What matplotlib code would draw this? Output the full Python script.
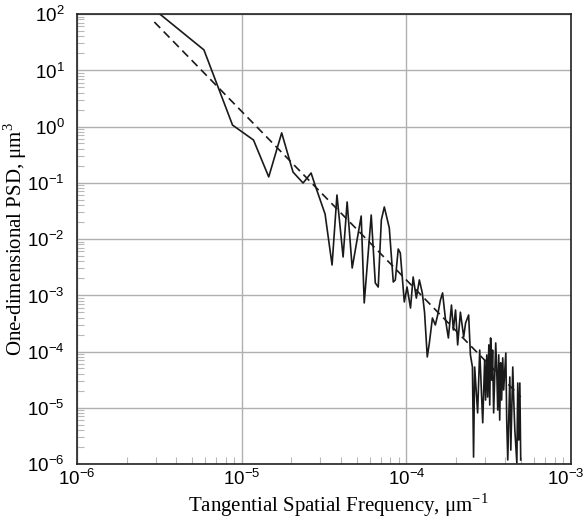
import matplotlib
matplotlib.use('Agg')
import matplotlib.pyplot as plt
from matplotlib.ticker import LogLocator, NullFormatter
from matplotlib.transforms import ScaledTranslation

# one-dimensional PSD (frequency in 1/um, PSD in um^3)
freq = [3.0e-6, 5.9e-6, 8.8e-6, 1.18e-5, 1.46e-5, 1.75e-5, 2.05e-5, 2.36e-5,
        2.64e-5, 2.79e-5, 3.21e-5, 3.54e-5, 3.79e-5, 4.13e-5, 4.37e-5, 4.69e-5,
        5.32e-5, 5.55e-5, 6.12e-5, 6.48e-5, 6.75e-5, 7.05e-5, 7.35e-5, 7.88e-5,
        8.33e-5, 8.57e-5, 8.93e-5, 9.19e-5, 9.72e-5, 1.01e-4, 1.06e-4, 1.10e-4,
        1.15e-4, 1.20e-4, 1.25e-4, 1.29e-4, 1.34e-4, 1.38e-4, 1.44e-4, 1.50e-4,
        1.55e-4, 1.61e-4, 1.66e-4, 1.73e-4, 1.80e-4, 1.88e-4, 1.93e-4, 1.99e-4,
        2.05e-4, 2.13e-4, 2.23e-4, 2.29e-4, 2.39e-4, 2.45e-4, 2.52e-4, 2.56e-4,
        2.60e-4, 2.71e-4, 2.79e-4, 2.91e-4, 2.99e-4, 3.03e-4, 3.08e-4, 3.12e-4,
        3.17e-4, 3.21e-4, 3.25e-4, 3.30e-4, 3.34e-4, 3.39e-4, 3.49e-4, 3.54e-4,
        3.59e-4, 3.64e-4, 3.69e-4, 3.74e-4, 3.79e-4, 3.85e-4, 3.90e-4, 4.02e-4,
        4.07e-4, 4.13e-4, 4.25e-4, 4.31e-4, 4.43e-4, 4.49e-4, 4.56e-4, 4.69e-4,
        4.75e-4, 4.82e-4, 4.89e-4, 4.95e-4]
psd = [115, 23, 1.06, 0.575, 0.127, 0.77, 0.155, 0.099,
       0.149, 0.091, 0.0278, 0.00345, 0.0605, 0.00479, 0.0455, 0.00305,
       0.0256, 7.3e-4, 0.0267, 0.00165, 0.0014, 0.0218, 0.0371, 0.0157,
       0.00172, 0.00187, 0.00664, 0.00564, 7.6e-4, 0.0014, 5.93e-4, 0.00211,
       8.9e-4, 0.00187, 0.0011, 5.0e-4, 8.0e-5, 1.42e-4, 3.94e-4, 2.96e-4,
       4.46e-4, 8.2e-4, 0.0011, 3.63e-4, 1.74e-4, 6.7e-4, 2.41e-4, 5.47e-4,
       1.31e-4, 5.0e-4, 1.81e-4, 3.21e-4, 4.46e-4, 8.7e-5, 5.3e-5, 1.33e-6,
       5.3e-5, 8.1e-6, 1.06e-4, 5.4e-6, 7.1e-5, 1.37e-5, 8.7e-5, 1.55e-5,
       1.31e-4, 1.12e-5, 1.74e-4, 3.1e-5, 1.06e-4, 8.1e-6, 1.42e-4, 4.7e-5,
       9.1e-6, 8.7e-5, 6.05e-6, 6.3e-5, 1.37e-5, 7.7e-5, 2.07e-5, 9.4e-5,
       6.05e-6, 1.18e-6, 3.52e-5, 1.77e-6, 5.3e-5, 1.37e-5, 4.0e-6, 1.04e-6,
       2.75e-5, 2.67e-6, 2.75e-5, 1.18e-6]

# power-law fit (dashed)
fit_freq = [2.95e-6, 4.95e-4]
fit_psd = [72, 1.55e-5]

xticks = [1e-6, 1e-5, 1e-4, 1e-3]
xlabels = ['10$^{\\mathregular{-6}}$', '10$^{\\mathregular{-5}}$',
           '10$^{\\mathregular{-4}}$', '10$^{\\mathregular{-3}}$']
yticks = [1e-6, 1e-5, 1e-4, 1e-3, 1e-2, 1e-1, 1e0, 1e1, 1e2]
ylabels = ['10$^{\\mathregular{%d}}$' % e for e in range(-6, 3)]

fig = plt.figure(figsize=(5.87, 5.21), dpi=100)
ax = fig.add_axes([77 / 587, 1 - 464 / 521, 494 / 587, 450 / 521])

ax.plot(freq, psd, color='#1a1a1a', lw=1.2)
ax.plot(fit_freq, fit_psd, color='#1a1a1a', lw=1.2, ls=(0, (5, 3)))

ax.set_xscale('log')
ax.set_yscale('log')
ax.set_xlim(1e-6, 1e-3)
ax.set_ylim(1e-6, 1e2)

tick_font = {'family': 'Liberation Sans', 'size': 13.5}
ax.set_xticks(xticks)
ax.set_xticklabels(xlabels, fontdict=tick_font)
ax.set_yticks(yticks)
ax.set_yticklabels(ylabels, fontdict=tick_font)
ax.xaxis.set_minor_locator(LogLocator(base=10, subs=range(2, 10), numticks=20))
ax.yaxis.set_minor_locator(LogLocator(base=10, subs=range(2, 10), numticks=20))
ax.xaxis.set_minor_formatter(NullFormatter())
ax.yaxis.set_minor_formatter(NullFormatter())

ax.grid(True, which='major', color='#b0b0b0', lw=1.0)
ax.tick_params(axis='x', which='major', length=0, pad=3)
ax.tick_params(axis='y', which='major', length=0, pad=9)
ax.tick_params(which='minor', direction='in', length=5, width=0.8, color='#b8b8b8')
for s in ax.spines.values():
    s.set_color('#222222')
    s.set_linewidth(1.2)

# last x label sits a little left so it stays inside the figure
last = ax.get_xticklabels()[-1]
last.set_transform(last.get_transform() + ScaledTranslation(-4 / 72, 0, fig.dpi_scale_trans))

ax.set_xlabel('Tangential Spatial Frequency, \u03bcm$^{\\mathregular{-1}}$',
              family='Liberation Serif', size=15)
ax.xaxis.set_label_coords(0.528, -0.091)
ax.xaxis.label.set_va('center')
ax.set_ylabel('One-dimensional PSD, \u03bcm$^{\\mathregular{3}}$',
              family='Liberation Serif', size=15)
ax.yaxis.set_label_coords(-0.126, 0.5)
ax.yaxis.label.set_va('center')

plt.savefig('out.png', dpi=100)
